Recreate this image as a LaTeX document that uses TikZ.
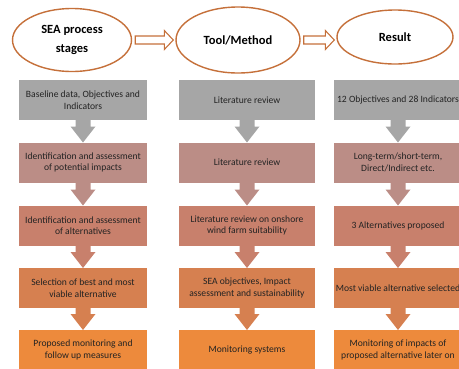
\documentclass[tikz,border=0pt]{standalone}
\usepackage{fontspec}
\setmainfont{Carlito}
\usetikzlibrary{calc,shapes.geometric}

\begin{document}
\begin{tikzpicture}[x=1pt, y=-1pt,
  % ---- colours ---------------------------------------------------------
  /utils/exec={%
    \definecolor{seaorange} {RGB}{197,112, 58}%
    \definecolor{stepgrey}  {RGB}{166,166,166}%
    \definecolor{steprose}  {RGB}{187,141,134}%
    \definecolor{stepclay}  {RGB}{200,128,108}%
    \definecolor{steprust}  {RGB}{214,128, 80}%
    \definecolor{steporange}{RGB}{237,138, 60}%
    \definecolor{txtgrey}   {RGB}{ 35, 35, 35}%
  },
  % ---- one style per kind of box ----------------------------------------
  colhead/.style={ellipse, draw=seaorange, line width=1.4pt, fill=white,
    inner sep=0pt, align=center, font=\fontsize{12.5}{19}\selectfont\bfseries},
  stage/.style={fill=#1, minimum width=128pt, minimum height=40pt,
    inner sep=2pt, outer sep=0pt, align=center, text=txtgrey,
    font=\fontsize{9.6}{11.5}\selectfont},
  % hollow arrow between the column heads
  hollow/.style={draw=seaorange, line width=1.1pt, fill=white,
    to path={let \p1=(\tikztostart.east), \p2=(\tikztotarget.west) in
      (\x1+3pt,\y1+4pt) -- (\x2-11pt,\y1+4pt) -- (\x2-11pt,\y1+9.5pt)
      -- (\x2-2pt,\y1) -- (\x2-11pt,\y1-9.5pt) -- (\x2-11pt,\y1-4pt)
      -- (\x1+3pt,\y1-4pt) -- cycle}},
  % block arrow down to the next stage
  drop/.style={fill=#1,
    to path={let \p1=(\tikztostart.south), \p2=(\tikztotarget.north) in
      (\x1-7.5pt,\y1) -- (\x1+7.5pt,\y1) -- (\x1+7.5pt,\y2+16pt)
      -- (\x1+12.5pt,\y2+16pt) -- (\x1,\y2) -- (\x1-12.5pt,\y2+16pt)
      -- (\x1-7.5pt,\y2+16pt) -- cycle}},
]
\useasboundingbox (0,0) rectangle (459,368);
\clip (0,0) rectangle (459,368);

% =====================================================================
%  HEADS
% =====================================================================
\node[colhead, minimum width=119pt, minimum height=63pt] (hsea)  at (72,40)  {SEA process\\stages};
\node[colhead, minimum width=124pt, minimum height=66pt] (htool) at (238,40) {Tool/Method};
\node[colhead, minimum width=116pt, minimum height=54pt] (hres)  at (395,37) {Result};

\draw[hollow] (hsea) to (htool);
\draw[hollow] (htool) to (hres);

% =====================================================================
%  COLUMN 1 : SEA process stages
% =====================================================================
\node[stage=stepgrey]   (base)   at (83,100)   {Baseline data, Objectives and\\Indicators};
\node[stage=steprose]   (ident)  at (83,162.5) {Identification and assessment\\of potential impacts};
\node[stage=stepclay]   (alts)   at (83,225.5) {Identification and assessment\\of alternatives};
\node[stage=steprust]   (best)   at (83,288)   {Selection of best and most\\viable alternative};
\node[stage=steporange] (follow) at (83,350)   {Proposed monitoring and\\follow up measures};

% =====================================================================
%  COLUMN 2 : tool / method
% =====================================================================
\node[stage=stepgrey,   minimum width=136pt] (litA) at (247,100)   {Literature review};
\node[stage=steprose,   minimum width=136pt] (litB) at (247,162.5) {Literature review};
\node[stage=stepclay,   minimum width=136pt] (litC) at (247,225.5) {Literature review on onshore\\wind farm suitability};
\node[stage=steprust,   minimum width=136pt] (obj)  at (247,288)   {SEA objectives, Impact\\assessment and sustainability};
\node[stage=steporange, minimum width=136pt] (mon)  at (247,350)   {Monitoring systems};

% =====================================================================
%  COLUMN 3 : result
% =====================================================================
\node[stage=stepgrey]   (indic)  at (398,100)   {12 Objectives and 28 Indicators};
\node[stage=steprose]   (terms)  at (398,162.5) {Long-term/short-term,\\Direct/Indirect etc.};
\node[stage=stepclay]   (three)  at (398,225.5) {3 Alternatives proposed};
\node[stage=steprust]   (viable) at (398,288)   {Most viable alternative selected};
\node[stage=steporange] (later)  at (398,350)   {Monitoring of impacts of\\proposed alternative later on};

% =====================================================================
%  FLOW
% =====================================================================
\path[drop=stepgrey] (base)  to (ident);
\path[drop=steprose] (ident) to (alts);
\path[drop=stepclay] (alts)  to (best);
\path[drop=steprust] (best)  to (follow);

\path[drop=stepgrey] (litA) to (litB);
\path[drop=steprose] (litB) to (litC);
\path[drop=stepclay] (litC) to (obj);
\path[drop=steprust] (obj)  to (mon);

\path[drop=stepgrey] (indic)  to (terms);
\path[drop=steprose] (terms)  to (three);
\path[drop=stepclay] (three)  to (viable);
\path[drop=steprust] (viable) to (later);

\end{tikzpicture}
\end{document}
